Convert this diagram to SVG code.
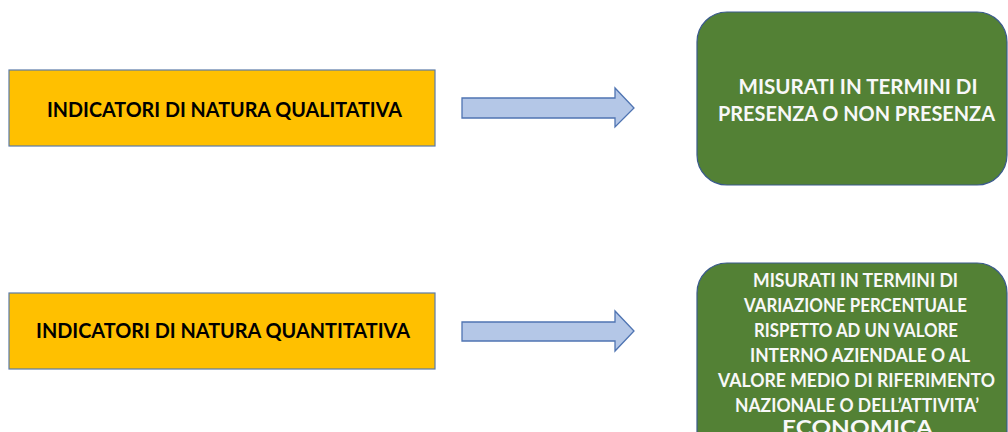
<svg xmlns="http://www.w3.org/2000/svg" width="1008" height="432" viewBox="0 0 1008 432">
<style>
.yb{fill:#FFC000;stroke:#5B7BA8;stroke-width:1.2}
.gb{fill:#538135;stroke:#3A5A8C;stroke-width:1.2}
.ar{fill:#B4C7E7;stroke:#4F74B2;stroke-width:1.3}
.yt{font-family:Lato,"Liberation Sans",sans-serif;font-weight:bold;font-size:21px;fill:#000;text-anchor:middle}
.gt{font-family:Lato,"Liberation Sans",sans-serif;font-weight:bold;font-size:21px;fill:#F8F8F8;text-anchor:middle}
.gs{font-size:19px}
</style>
<rect width="1008" height="432" fill="#fff"/>
<g id="qualitativa">
<rect class="yb" x="9" y="70" width="426" height="76"/>
<text class="yt" x="224.5" y="117" textLength="355" lengthAdjust="spacingAndGlyphs">INDICATORI DI NATURA QUALITATIVA</text>
</g>
<g id="quantitativa">
<rect class="yb" x="9" y="293" width="426" height="76"/>
<text class="yt" x="223" y="338" textLength="374" lengthAdjust="spacingAndGlyphs">INDICATORI DI NATURA QUANTITATIVA</text>
</g>
<g id="presenza">
<rect class="gb" x="697" y="12" width="310" height="173" rx="30" ry="30"/>
<text class="gt" x="858" y="94" textLength="239" lengthAdjust="spacingAndGlyphs">MISURATI IN TERMINI DI</text>
<text class="gt" x="856.5" y="121" textLength="277" lengthAdjust="spacingAndGlyphs">PRESENZA O NON PRESENZA</text>
</g>
<g id="variazione">
<rect class="gb" x="697" y="263" width="310" height="200" rx="30" ry="30"/>
<text class="gt gs" x="855.5" y="287" textLength="205" lengthAdjust="spacingAndGlyphs">MISURATI IN TERMINI DI</text>
<text class="gt gs" x="855.5" y="312" textLength="223" lengthAdjust="spacingAndGlyphs">VARIAZIONE PERCENTUALE</text>
<text class="gt gs" x="856" y="337" textLength="204" lengthAdjust="spacingAndGlyphs">RISPETTO AD UN VALORE</text>
<text class="gt gs" x="860" y="362" textLength="220" lengthAdjust="spacingAndGlyphs">INTERNO AZIENDALE O AL</text>
<text class="gt gs" x="856.5" y="387" textLength="277" lengthAdjust="spacingAndGlyphs">VALORE MEDIO DI RIFERIMENTO</text>
<text class="gt gs" x="857" y="412" textLength="244" lengthAdjust="spacingAndGlyphs">NAZIONALE O DELL’ATTIVITA’</text>
<text class="gt" x="857.5" y="435" textLength="151" lengthAdjust="spacingAndGlyphs">ECONOMICA</text>
</g>
<g id="connectors">
<polygon class="ar" points="462,98 615,98 615,88 634,108 615,127 615,118 462,118"/>
<polygon class="ar" points="462,322 615,322 615,311 634,331 615,351 615,341 462,341"/>
</g>
</svg>
